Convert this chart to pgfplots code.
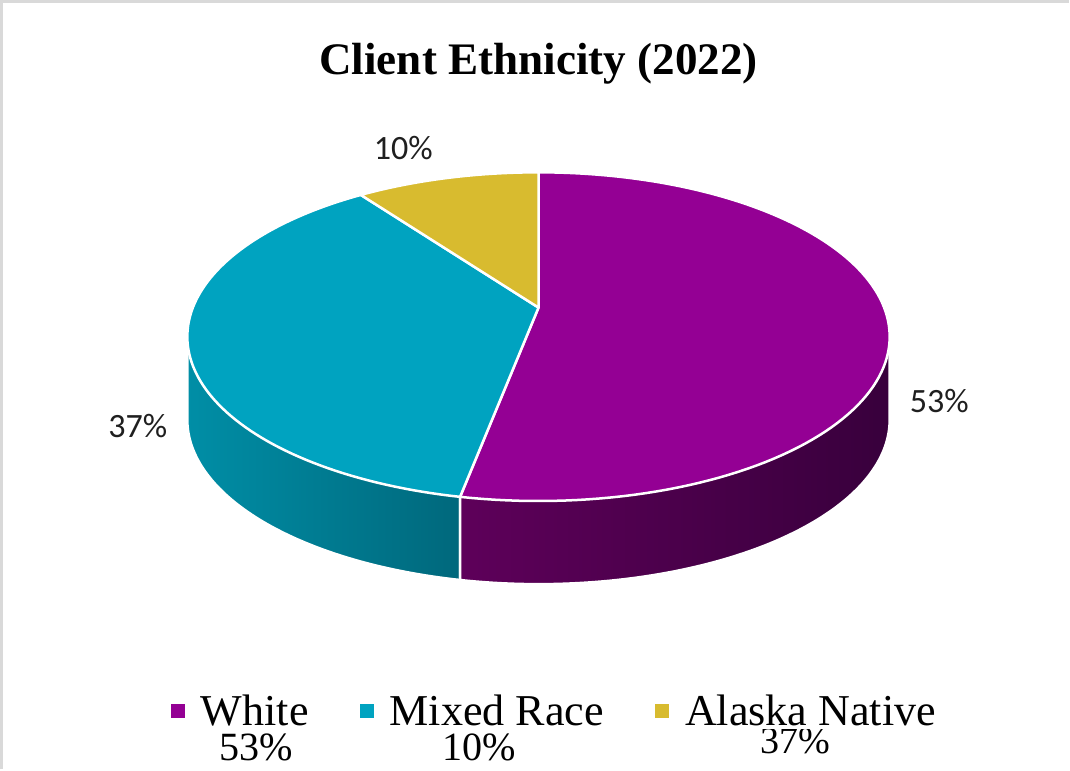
\documentclass[border=0pt]{standalone}
\usepackage{fontspec}
\setmainfont{Liberation Serif}
\newfontfamily\carlito{Carlito}
\usepackage{pgfplots}
\usepackage{pgfplotstable}
\pgfplotsset{compat=1.18}
\definecolor{cW}{RGB}{148,0,148}
\definecolor{cM}{RGB}{0,163,192}
\definecolor{cA}{RGB}{216,187,47}
\definecolor{cWl}{RGB}{94,0,90}
\definecolor{cWr}{RGB}{56,0,60}
\definecolor{cMl}{RGB}{0,142,166}
\definecolor{cMr}{RGB}{0,104,124}
\definecolor{framegray}{RGB}{217,217,217}

\pgfplotstableread{
label value
White 53
Mixed 37
Alaska 10
}\piedata
\pgfplotstablegetelem{0}{value}\of\piedata \let\vW\pgfplotsretval
\pgfplotstablegetelem{1}{value}\of\piedata \let\vM\pgfplotsretval
\pgfplotstablegetelem{2}{value}\of\piedata \let\vA\pgfplotsretval

% perspective ellipse: apex (541,461), k=0.177
\pgfmathdeclarefunction{px}{1}{\pgfmathparse{541+345*cos(#1)/(1+0.177*sin(#1))}}
\pgfmathdeclarefunction{py}{1}{\pgfmathparse{461+158.9*sin(#1)/(1+0.177*sin(#1))}}

\pgfmathsetmacro\aA{90-\vW*3.6}
\pgfmathsetmacro\aB{\aA-\vM*3.6}
\pgfmathsetmacro\aC{\aB-\vA*3.6}
\pgfmathsetmacro\ts{-asin(0.177)}
\pgfmathsetmacro\tl{-180-\ts}
\pgfmathsetmacro\xA{px(\aA)}\pgfmathsetmacro\yA{py(\aA)}
\pgfmathsetmacro\xS{px(\ts)}\pgfmathsetmacro\yS{py(\ts)}
\pgfmathsetmacro\xL{px(\tl)}\pgfmathsetmacro\yL{py(\tl)}
\def\dep{83}

\pgfplotsset{sqlegend/.style={legend image code/.code={%
  \fill[#1] (0pt,-7pt) rectangle (14pt,7pt);}}}

\begin{document}
\begin{tikzpicture}
\begin{axis}[
  width=1070pt, height=771pt, scale only axis,
  xmin=0, xmax=1070, ymin=0, ymax=771,
  axis lines=none, clip=false,
  legend style={at={(axis cs:174,58)}, anchor=west, draw=none,
    inner sep=0pt, outer sep=0pt, legend columns=-1,
    font=\fontsize{44}{50}\selectfont,
    /tikz/every odd column/.append style={column sep=14pt},
    /tikz/every even column/.append style={column sep=49pt}},
  legend cell align=left,
]
\addlegendimage{sqlegend, fill=cW, draw=none}
\addlegendentry{White}
\addlegendimage{sqlegend, fill=cM, draw=none}
\addlegendentry{Mixed Race}
\addlegendimage{sqlegend, fill=cA, draw=none}
\addlegendentry{Alaska Native}
% side walls
\addplot[left color=cMl, right color=cMr, draw=white, line width=2.5pt,
  domain=\tl:\aA, samples=80, variable=\t, forget plot]
  ({px(t)}, {py(t)-\dep}) -- (\xA,\yA) -- (\xL,\yL) -- cycle;
\addplot[left color=cWl, right color=cWr, draw=white, line width=2.5pt,
  domain=\aA:\ts, samples=80, variable=\t, forget plot]
  ({px(t)}, {py(t)-\dep}) -- (\xS,\yS) -- (\xA,\yA) -- cycle;
% top faces
\addplot[fill=cW, draw=white, line width=2.5pt, line join=round,
  domain=\aA:90, samples=120, variable=\t, forget plot]
  ({px(t)}, {py(t)}) -- (541,461) -- cycle;
\addplot[fill=cM, draw=white, line width=2.5pt, line join=round,
  domain=\aB:\aA, samples=100, variable=\t, forget plot]
  ({px(t)}, {py(t)}) -- (541,461) -- cycle;
\addplot[fill=cA, draw=white, line width=2.5pt, line join=round,
  domain=\aC:\aB, samples=40, variable=\t, forget plot]
  ({px(t)}, {py(t)}) -- (541,461) -- cycle;

% frame
\draw[framegray, line width=3pt] (axis cs:5,0) -- (axis cs:5,766.5) -- (axis cs:1070,766.5);
% title
\node[font=\bfseries\fontsize{45}{54}\selectfont, anchor=base] at (axis cs:541,694) {Client Ethnicity (2022)};
% data labels
\node[font=\carlito\fontsize{34}{40}\selectfont, text=black!88, anchor=base] at (axis cs:406,609) {10\%};
\node[font=\carlito\fontsize{34}{40}\selectfont, text=black!88, anchor=base] at (axis cs:941,356) {53\%};
\node[font=\carlito\fontsize{34}{40}\selectfont, text=black!88, anchor=base] at (axis cs:141,331) {37\%};
% legend second line
\node[font=\fontsize{40}{46}\selectfont, anchor=base] at (axis cs:259,9) {53\%};
\node[font=\fontsize{40}{46}\selectfont, anchor=base] at (axis cs:482,9) {10\%};
\node[font=\fontsize{38}{44}\selectfont, anchor=base] at (axis cs:797,16) {37\%};
\end{axis}
\end{tikzpicture}
\end{document}
